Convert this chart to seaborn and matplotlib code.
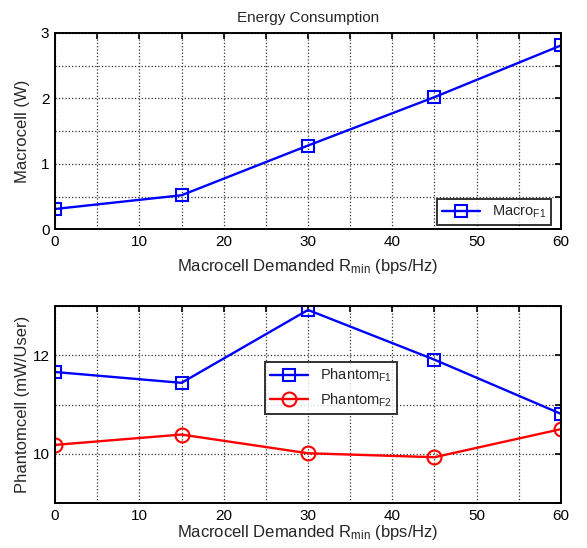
import matplotlib
matplotlib.use("Agg")
import matplotlib.pyplot as plt
import seaborn as sns
import pandas as pd
import numpy as np

rmin = [0, 15, 30, 45, 60]
macro_f1 = [0.31, 0.52, 1.28, 2.02, 2.81]
phantom_f1 = [11.66, 11.44, 12.92, 11.91, 10.81]
phantom_f2 = [10.18, 10.39, 10.01, 9.93, 10.50]

sns.set_style("white")
plt.rcParams['font.family'] = ['Liberation Sans', 'DejaVu Sans']
plt.rcParams['mathtext.fontset'] = 'custom'
plt.rcParams['mathtext.rm'] = 'Liberation Sans'
plt.rcParams['mathtext.it'] = 'Liberation Sans'
plt.rcParams['font.size'] = 10

fig = plt.figure(figsize=(5.87, 5.48), dpi=100)
ax1 = fig.add_axes([0.0937, 0.5816, 0.862, 0.3582])
ax2 = fig.add_axes([0.0937, 0.0821, 0.862, 0.3595])

sns.lineplot(x=rmin, y=macro_f1, ax=ax1, color='#0000ff', marker='s',
             markersize=8, markerfacecolor='none', markeredgecolor='#0000ff',
             markeredgewidth=1.5, linewidth=1.7, label=r'Macro$_{\mathrm{F1}}$')

sns.lineplot(x=rmin, y=phantom_f1, ax=ax2, color='#0000ff', marker='s',
             markersize=8, markerfacecolor='none', markeredgecolor='#0000ff',
             markeredgewidth=1.5, linewidth=1.7, label=r'Phantom$_{\mathrm{F1}}$')
sns.lineplot(x=rmin, y=phantom_f2, ax=ax2, color='#ff0000', marker='o',
             markersize=10, markerfacecolor='none', markeredgecolor='#ff0000',
             markeredgewidth=1.5, linewidth=1.7, label=r'Phantom$_{\mathrm{F2}}$')

xt = list(range(0, 65, 5))
xtl = [str(v) if v % 10 == 0 else '' for v in xt]

for ax in (ax1, ax2):
    ax.set_xlim(0, 60)
    ax.set_xticks(xt)
    ax.set_xticklabels(xtl)
    ax.grid(True, linestyle=':', color='#333333', linewidth=0.9)
    ax.tick_params(direction='in', top=True, right=True, length=4, width=1.2,
                   labelsize=11, pad=4, colors='black')
    for sp in ax.spines.values():
        sp.set_color('black')
        sp.set_linewidth(1.4)

ax1.set_ylim(0, 3)
ax1.set_yticks([0, 0.5, 1, 1.5, 2, 2.5, 3])
ax1.set_yticklabels(['0', '', '1', '', '2', '', '3'])
ax1.set_title('Energy Consumption', fontsize=11, pad=8)
ax1.set_xlabel(r'Macrocell Demanded R$_{\mathrm{min}}$ (bps/Hz)', fontsize=12, labelpad=6)
ax1.set_ylabel('Macrocell (W)', fontsize=12, labelpad=8)

ax2.set_ylim(9, 13)
ax2.set_yticks([9, 10, 11, 12, 13])
ax2.set_yticklabels(['', '10', '', '12', ''])
ax2.set_xlabel(r'Macrocell Demanded R$_{\mathrm{min}}$ (bps/Hz)', fontsize=12, labelpad=0)
ax2.set_ylabel('Phantomcell (mW/User)', fontsize=12, labelpad=2)

leg1 = ax1.legend(loc='lower right', bbox_to_anchor=(0.98, 0.02), frameon=True,
                  fancybox=False, fontsize=10.5, handlelength=2.6, borderaxespad=0.0,
                  borderpad=0.35)
leg1.get_frame().set_edgecolor('black')
leg1.get_frame().set_linewidth(1.4)

leg2 = ax2.legend(loc='center', bbox_to_anchor=(0.545, 0.585), frameon=True,
                  fancybox=False, fontsize=10.5, handlelength=2.6, borderaxespad=0.0,
                  borderpad=0.35)
leg2.get_frame().set_edgecolor('black')
leg2.get_frame().set_linewidth(1.4)

fig.savefig('out.png', dpi=100)
